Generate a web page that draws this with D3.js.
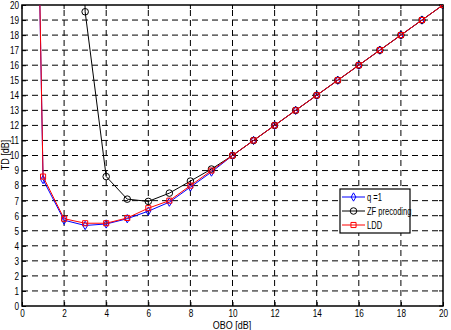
<!DOCTYPE html>
<html>
<head>
<meta charset="utf-8">
<script src="https://cdn.jsdelivr.net/npm/d3@7"></script>
<style>
body { margin: 0; background: #fff; }
svg { display: block; }
text { font-family: "Liberation Sans", "DejaVu Sans", sans-serif; }
</style>
</head>
<body>
<svg id="chart" width="451" height="330"></svg>
<script>
// OBO values [dB]
var obo = [0, 1, 2, 3, 4, 5, 6, 7, 8, 9, 10, 11, 12, 13, 14, 15, 16, 17, 18, 19, 20];
// TD [dB] per curve (first points run off the top of the plot)
var tdQ1 = [85, 8.4, 5.7, 5.35, 5.45, 5.8, 6.3, 6.9, 7.9, 8.9, 10, 11, 12, 13, 14, 15, 16, 17, 18, 19, 20];
var tdLDD = [85, 8.6, 5.8, 5.5, 5.5, 5.85, 6.5, 7.0, 8.0, 9.0, 10, 11, 12, 13, 14, 15, 16, 17, 18, 19, 20];
var oboZF = [2, 3, 4, 5, 6, 7, 8, 9, 10, 11, 12, 13, 14, 15, 16, 17, 18, 19, 20];
var tdZF = [80, 19.55, 8.6, 7.1, 6.95, 7.5, 8.3, 9.1, 10, 11, 12, 13, 14, 15, 16, 17, 18, 19, 20];
var xTicks = [0, 2, 4, 6, 8, 10, 12, 14, 16, 18, 20];
var yTicks = d3.range(0, 21, 1);
var seriesNames = ["q =1", "ZF precoding", "LDD"];

var svg = d3.select('#chart');
var pL = 22, pR = 443, pT = 5, pB = 306;
var sx = 0.78; // narrow look of the original font
var x = d3.scaleLinear().domain([0, 20]).range([pL, pR]);
var y = d3.scaleLinear().domain([0, 20]).range([pB, pT]);

svg.append('defs').append('clipPath').attr('id', 'plotClip')
	.append('rect').attr('x', pL).attr('y', pT).attr('width', pR - pL).attr('height', pB - pT);

// grid
var grid = svg.append('g').attr('stroke', '#000').attr('stroke-width', 1).attr('stroke-dasharray', '6,4');
grid.selectAll('.gx').data(xTicks.slice(1, -1)).enter().append('line')
	.attr('x1', function(d){ return x(d); }).attr('x2', function(d){ return x(d); })
	.attr('y1', pB).attr('y2', pT);
grid.selectAll('.gy').data(yTicks.slice(1, -1)).enter().append('line')
	.attr('y1', function(d){ return y(d); }).attr('y2', function(d){ return y(d); })
	.attr('x1', pL).attr('x2', pR);

// axes
var xAxis = svg.append('g').attr('transform', 'translate(0,' + pB + ')')
	.call(d3.axisBottom(x).tickValues(xTicks).tickSizeInner(-4).tickSizeOuter(0).tickPadding(4));
var yAxis = svg.append('g').attr('transform', 'translate(' + pL + ',0)')
	.call(d3.axisLeft(y).tickValues(yTicks).tickSizeInner(-4).tickSizeOuter(0).tickPadding(3));
[xAxis, yAxis].forEach(function(a){
	a.select('.domain').remove();
	a.selectAll('text').attr('font-size', '10.5px').attr('fill', '#000')
		.style('font-family', '"Liberation Sans", sans-serif');
});
xAxis.selectAll('text').attr('transform', 'scale(' + sx + ',1)');
yAxis.selectAll('text').attr('x', -3 / sx).attr('transform', 'scale(' + sx + ',1)');
// top/right ticks
svg.append('g').selectAll('line').data(xTicks).enter().append('line')
	.attr('x1', function(d){ return x(d); }).attr('x2', function(d){ return x(d); })
	.attr('y1', pT).attr('y2', pT + 4).attr('stroke', '#000');
svg.append('g').selectAll('line').data(yTicks).enter().append('line')
	.attr('y1', function(d){ return y(d); }).attr('y2', function(d){ return y(d); })
	.attr('x1', pR).attr('x2', pR - 4).attr('stroke', '#000');

svg.append('rect').attr('x', pL).attr('y', pT).attr('width', pR - pL).attr('height', pB - pT)
	.attr('fill', 'none').attr('stroke', '#000').attr('stroke-width', 1.5);

svg.append('text').attr('transform', 'translate(232,329) scale(' + sx + ',1)').attr('text-anchor', 'middle')
	.attr('font-size', '11.5px').text('OBO [dB]');
svg.append('text').attr('transform', 'translate(9,155) rotate(-90) scale(' + sx + ',1)').attr('text-anchor', 'middle')
	.attr('font-size', '11.5px').text('TD [dB]');

// series
var line = d3.line().x(function(d){ return x(d[0]); }).y(function(d){ return y(d[1]); });
var series = [
	{ name: seriesNames[0], xs: obo, ys: tdQ1, color: '#0000ff', marker: d3.symbolDiamond, size: 20 },
	{ name: seriesNames[1], xs: oboZF, ys: tdZF, color: '#000000', marker: d3.symbolCircle, size: 34 },
	{ name: seriesNames[2], xs: obo, ys: tdLDD, color: '#ff0000', marker: d3.symbolSquare, size: 26 }
];
var plot = svg.append('g').attr('clip-path', 'url(#plotClip)');
series.forEach(function(s){
	var pts = s.xs.map(function(v, i){ return [v, s.ys[i]]; });
	plot.append('path').datum(pts).attr('d', line)
		.attr('fill', 'none').attr('stroke', s.color).attr('stroke-width', 1);
	plot.selectAll(null).data(pts.filter(function(p){ return p[1] <= 20.5; })).enter().append('path')
		.attr('transform', function(d){ return 'translate(' + x(d[0]) + ',' + y(d[1]) + ')'; })
		.attr('d', d3.symbol().type(s.marker).size(s.size))
		.attr('fill', 'none').attr('stroke', s.color).attr('stroke-width', 1);
});

// legend
var lg = svg.append('g').attr('transform', 'translate(340,189)');
lg.append('rect').attr('width', 70).attr('height', 44).attr('fill', '#fff').attr('stroke', '#000').attr('stroke-width', 1.2);
series.forEach(function(s, i){
	var yy = 8 + i * 14;
	lg.append('line').attr('x1', 2).attr('x2', 25).attr('y1', yy).attr('y2', yy).attr('stroke', s.color);
	lg.append('path').attr('transform', 'translate(13.5,' + yy + ')')
		.attr('d', d3.symbol().type(s.marker).size(s.size)).attr('fill', 'none').attr('stroke', s.color);
	lg.append('text').attr('transform', 'translate(27,' + (yy + 3.5) + ') scale(0.72,1)')
		.attr('font-size', '10.5px').text(s.name);
});
</script>
</body>
</html>
